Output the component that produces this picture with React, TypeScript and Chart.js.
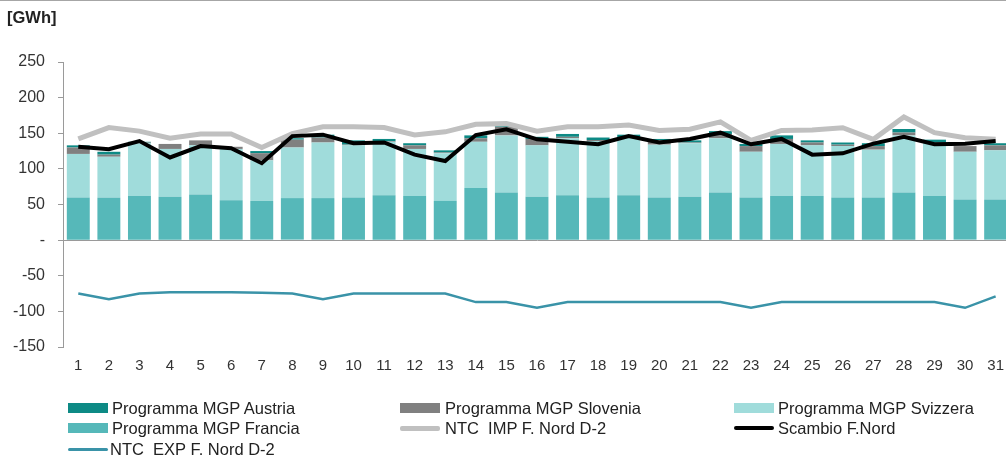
import React, { useEffect, useRef } from "react";
import { Chart, registerables } from "chart.js";

Chart.register(...registerables);

const days = Array.from({ length: 31 }, (_, i) => String(i + 1));
const francia = [60, 60, 62, 61, 64, 56, 55, 59, 59, 60, 63, 62, 55, 73, 67, 61, 63, 60, 63, 60, 61, 67, 60, 62, 62, 60, 60, 67, 62, 57, 57];
const svizzera = [61, 57, 74, 67, 69, 72, 57, 71, 78, 73, 75, 66, 67, 65, 80, 72, 80, 79, 81, 74, 75, 76, 64, 73, 71, 72, 67, 80, 74, 67, 69];
const slovenia = [9, 3, 1, 7, 7, 3, 10, 11, 7, 1, 1, 5, 1, 5, 12, 9, 2, 1.5, 0, 6, 1, 6, 8, 7, 4, 2, 5, 4, 1, 8, 7];
const austria = [3, 4, 1, 0, 0, 0, 3, 2, 4, 6, 3, 3, 3, 4, 4, 3, 4, 3.5, 4, 2, 3, 4, 3, 5, 3, 3, 4, 5, 4, 0, 3];
const scambio = [131, 127.5, 139, 116, 132, 129, 108, 146, 148, 136, 137, 120, 111, 147.5, 155.6, 141.5, 138, 134.5, 146, 137, 142, 150.8, 134.5, 142, 120, 121.8, 135.4, 145, 134.5, 135.4, 139];
const ntcImp = [142, 158, 153, 143, 149, 149, 130, 149.5, 159, 159, 158, 147.5, 152, 162.6, 163.5, 153, 159, 159, 161.6, 154, 155.6, 166, 140, 154, 154.6, 157.8, 141.5, 172.9, 150.8, 143.8, 141.5];
const ntcExp = [-75, -83, -75, -73, -73, -73, -74, -75, -83, -75, -75, -75, -75, -87, -87, -95, -87, -87, -87, -87, -87, -87, -95, -87, -87, -87, -87, -87, -87, -95, -79];
const yTicks = [-150, -100, -50, 0, 50, 100, 150, 200, 250];

const C_AUSTRIA = "#0d8a85";
const C_SLOVENIA = "#808080";
const C_SVIZZERA = "#a0dcdb";
const C_FRANCIA = "#56b8b9";
const C_IMP = "#c0c0c0";
const C_SCAMBIO = "#000000";
const C_EXP = "#3a93a8";

const FONT = "'Liberation Sans', Arial, sans-serif";

type LegendItem = { label: string; color: string; kind: "box" | "line"; thick?: number; x: number; tx: number; y: number };

const legendItems: LegendItem[] = [
  { label: "Programma MGP Austria", color: C_AUSTRIA, kind: "box", x: 68, tx: 112, y: 408 },
  { label: "Programma MGP Slovenia", color: C_SLOVENIA, kind: "box", x: 400, tx: 445, y: 408 },
  { label: "Programma MGP Svizzera", color: C_SVIZZERA, kind: "box", x: 734, tx: 778, y: 408 },
  { label: "Programma MGP Francia", color: C_FRANCIA, kind: "box", x: 68, tx: 112, y: 428 },
  { label: "NTC  IMP F. Nord D-2", color: C_IMP, kind: "line", thick: 5, x: 400, tx: 445, y: 428 },
  { label: "Scambio F.Nord", color: C_SCAMBIO, kind: "line", thick: 4, x: 734, tx: 778, y: 428 },
  { label: "NTC  EXP F. Nord D-2", color: C_EXP, kind: "line", thick: 3, x: 68, tx: 110, y: 449 },
];

export default function App() {
  const ref = useRef<HTMLCanvasElement>(null);

  useEffect(() => {
    if (!ref.current) return;
    const chart = new Chart(ref.current, {
      type: "bar",
      data: {
        labels: days,
        datasets: [
          { type: "line", label: "Scambio F.Nord", data: scambio, borderColor: C_SCAMBIO, borderWidth: 4, pointRadius: 0, tension: 0, order: 0, stack: "l1" } as any,
          { type: "line", label: "NTC  IMP F. Nord D-2", data: ntcImp, borderColor: C_IMP, borderWidth: 5, pointRadius: 0, tension: 0, order: 1, stack: "l2" } as any,
          { type: "line", label: "NTC  EXP F. Nord D-2", data: ntcExp, borderColor: C_EXP, borderWidth: 2.5, pointRadius: 0, tension: 0, order: 2, stack: "l3" } as any,
          { type: "bar", label: "Programma MGP Francia", data: francia, backgroundColor: C_FRANCIA, order: 5, stack: "b", barPercentage: 0.75, categoryPercentage: 1 },
          { type: "bar", label: "Programma MGP Svizzera", data: svizzera, backgroundColor: C_SVIZZERA, order: 5, stack: "b", barPercentage: 0.75, categoryPercentage: 1 },
          { type: "bar", label: "Programma MGP Slovenia", data: slovenia, backgroundColor: C_SLOVENIA, order: 5, stack: "b", barPercentage: 0.75, categoryPercentage: 1 },
          { type: "bar", label: "Programma MGP Austria", data: austria, backgroundColor: C_AUSTRIA, order: 5, stack: "b", barPercentage: 0.75, categoryPercentage: 1 },
        ],
      },
      options: {
        animation: false,
        responsive: false,
        layout: { padding: { top: 62, left: 0, right: 1, bottom: 83 } },
        plugins: { legend: { display: false }, tooltip: { enabled: false } },
        scales: {
          x: {
            stacked: true,
            grid: { display: false, drawTicks: false },
            border: { display: false },
            ticks: { color: "#333", font: { family: FONT, size: 15 }, padding: 10, maxRotation: 0, autoSkip: false },
            afterFit: (s: any) => { s.height = 27; },
          },
          y: {
            stacked: true,
            min: -150,
            max: 250,
            afterBuildTicks: (s: any) => { s.ticks = yTicks.map((v) => ({ value: v })); },
            grid: {
              color: (ctx: any) => (ctx.tick && ctx.tick.value === 0 ? "#9a9a9a" : "transparent"),
              tickColor: "#9a9a9a",
              tickLength: 5,
              lineWidth: 1,
            },
            border: { display: true, color: "#9a9a9a", width: 1 },
            ticks: {
              color: "#333",
              font: { family: FONT, size: 16 },
              padding: 13,
              callback: (v: any) => (v === 0 ? "-" : String(v)),
            },
            afterFit: (s: any) => { s.width = 63; },
          },
        },
      },
    });
    return () => chart.destroy();
  }, []);

  return (
    <div style={{ position: "absolute", left: 0, top: 0, width: 1006, height: 457, overflow: "hidden", background: "#fff", fontFamily: FONT }}>
      <canvas ref={ref} width={1014} height={457} style={{ position: "absolute", left: 0, top: 0, width: 1014, height: 457 }} />
      <div style={{ position: "absolute", left: 0, top: 0, width: 1006, height: 1, background: "#a6a6a6" }} />
      <div style={{ position: "absolute", left: 7, top: 7, fontSize: 16.5, fontWeight: "bold", color: "#222", lineHeight: "20px" }}>[GWh]</div>
      {legendItems.map((it) => (
        <React.Fragment key={it.label}>
          <div
            style={{
              position: "absolute",
              left: it.x,
              top: it.kind === "box" ? it.y - 5 : it.y - (it.thick || 3) / 2,
              width: 40,
              height: it.kind === "box" ? 10 : it.thick,
              background: it.color,
              borderRadius: it.kind === "line" ? 2 : 0,
            }}
          />
          <div style={{ position: "absolute", left: it.tx, top: it.y - 10, height: 20, lineHeight: "20px", fontSize: 16.5, color: "#222", whiteSpace: "pre" }}>
            {it.label}
          </div>
        </React.Fragment>
      ))}
    </div>
  );
}
